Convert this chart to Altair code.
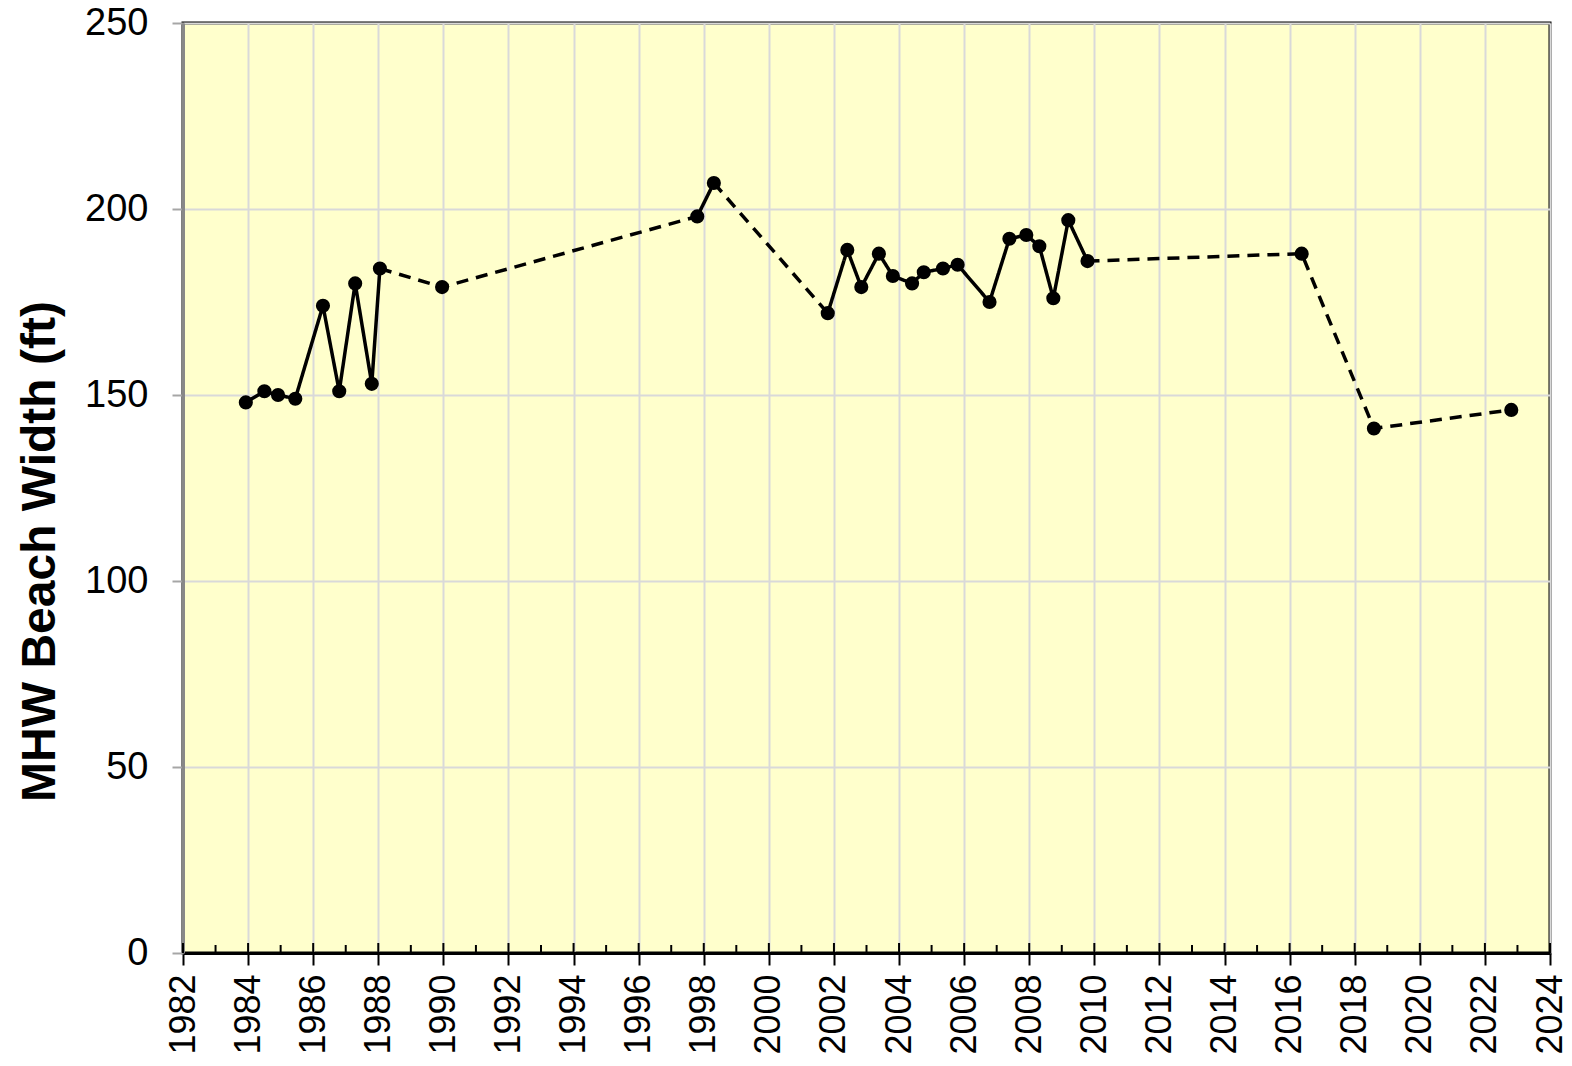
import altair as alt
import pandas as pd

# Survey dates (decimal years) and MHW beach widths (ft)
years = [1983.93, 1984.50, 1984.92, 1985.45, 1986.30, 1986.80, 1987.29, 1987.80,
         1988.05, 1989.96, 1997.80, 1998.31, 2001.81, 2002.41, 2002.84, 2003.38,
         2003.81, 2004.40, 2004.76, 2005.35, 2005.80, 2006.78, 2007.39, 2007.91,
         2008.31, 2008.74, 2009.20, 2009.79, 2016.37, 2018.59, 2022.81]
widths = [148, 151, 150, 149, 174, 151, 180, 153,
          184, 179, 198, 207, 172, 189, 179, 188,
          182, 180, 183, 184, 185, 175, 192, 193,
          190, 176, 197, 186, 188, 141, 146]
# style of each link between consecutive surveys
link_style = (["solid"] * 8 + ["dash", "dash", "solid", "dash"]
              + ["solid"] * 15 + ["dash", "dash", "dash"])

x_ticks = list(range(1982, 2025, 2))
minor_ticks = list(range(1983, 2024, 2))
y_ticks = [0, 50, 100, 150, 200, 250]

# build runs of consecutive links with the same style
rows = []
run = 0
for i, st in enumerate(link_style):
    if i > 0 and st != link_style[i - 1]:
        run += 1
    rows.append({"year": years[i], "width": widths[i], "run": run, "style": st, "ord": i})
    rows.append({"year": years[i + 1], "width": widths[i + 1], "run": run, "style": st, "ord": i + 1})
lines_df = pd.DataFrame(rows).drop_duplicates()
pts_df = pd.DataFrame({"year": years, "width": widths})
minor_df = pd.DataFrame({"year": minor_ticks})
major_df = pd.DataFrame({"year": x_ticks})

W, H = 1367, 930
FONT = "Liberation Sans"

xscale = alt.Scale(domain=[1982, 2024], nice=False, zero=False)
yscale = alt.Scale(domain=[0, 250], nice=False)

xaxis = alt.Axis(values=x_ticks, format="d", labelAngle=-90, labelFontSize=36,
                 labelFont=FONT, labelColor="black", labelPadding=9,
                 tickSize=12, tickColor="black", tickWidth=2,
                 domainColor="black", domainWidth=3,
                 grid=True, gridColor="#D9D9D9", gridWidth=2, title=None,
                 labelOverlap=False, labelFlush=False)
yaxis = alt.Axis(values=y_ticks, labelFontSize=38, labelFont=FONT, labelColor="black",
                 labelPadding=24, tickSize=11, tickColor="#A6A6A6", tickWidth=2,
                 domainColor="#888888", domainWidth=3,
                 grid=True, gridColor="#D9D9D9", gridWidth=2,
                 title="MHW Beach Width (ft)", titleFont=FONT, titleFontSize=48,
                 titleFontWeight="bold", titleColor="black", titlePadding=20,
                 titleY=528, labelFlush=False)

lines = alt.Chart(lines_df).mark_line(color="black", strokeWidth=3.5, strokeCap="butt").encode(
    x=alt.X("year:Q", scale=xscale, axis=xaxis),
    y=alt.Y("width:Q", scale=yscale, axis=yaxis),
    detail="run:N",
    order="ord:Q",
    strokeDash=alt.StrokeDash("style:N", scale=alt.Scale(domain=["solid", "dash"],
                                                          range=[[1, 0], [12, 8]]),
                              legend=None),
)

points = alt.Chart(pts_df).mark_circle(color="black", size=200, opacity=1).encode(
    x=alt.X("year:Q", scale=xscale),
    y=alt.Y("width:Q", scale=yscale),
)

minor = alt.Chart(minor_df).mark_rule(color="black", strokeWidth=2).encode(
    x=alt.X("year:Q", scale=xscale),
    y=alt.value(H - 8),
    y2=alt.value(H),
)
major_in = alt.Chart(major_df).mark_rule(color="black", strokeWidth=2).encode(
    x=alt.X("year:Q", scale=xscale),
    y=alt.value(H - 10),
    y2=alt.value(H),
)

chart = alt.layer(lines, minor, major_in, points).properties(
    width=W, height=H,
    autosize=alt.AutoSizeParams(type="none"),
    padding={"left": 175, "top": 15, "right": 14, "bottom": 105},
).configure_view(
    fill="#FFFFCC", stroke="black", strokeWidth=3
)

chart.save("out.html", embed_options={"renderer": "svg", "actions": False})
